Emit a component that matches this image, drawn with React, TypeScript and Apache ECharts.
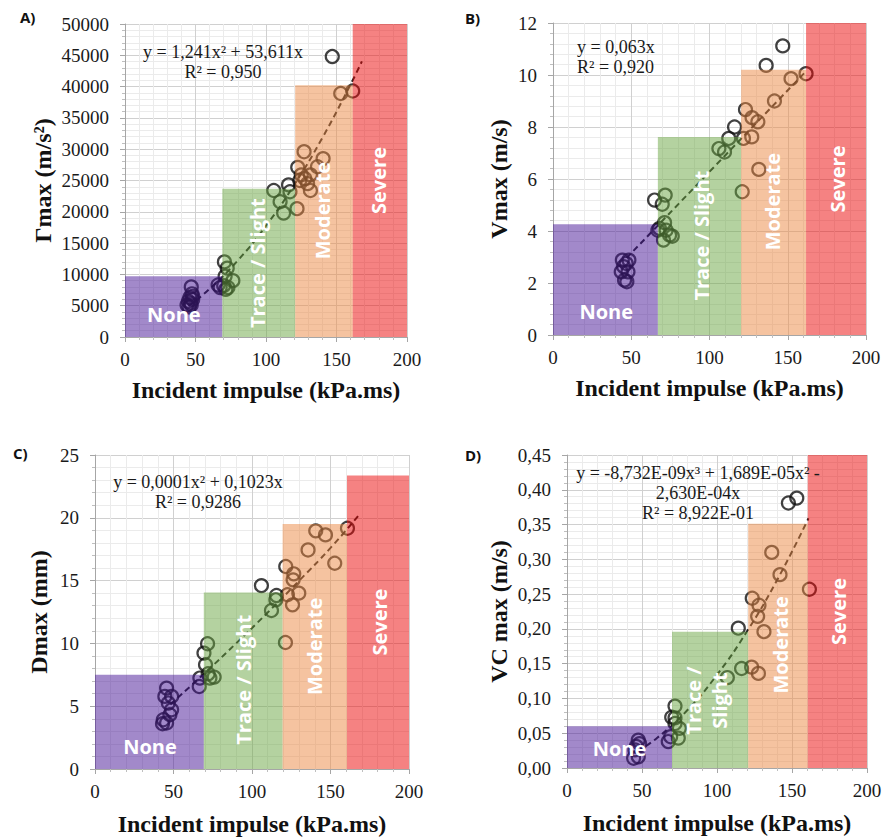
import React, { useEffect, useRef } from "react";
import * as echarts from "echarts";

const SERIF = "'Liberation Serif', 'Times New Roman', serif";
const SANS = "'Open Sans', 'Liberation Sans', sans-serif";

// ---------- Data ----------
const xTitle = "Incident impulse (kPa.ms)";
const zoneNames = ["None", "Trace / Slight", "Moderate", "Severe"];

// Panel A: Γmax
const impulseA = [47, 47.5, 46, 45, 44, 48, 46.5, 45.5, 47, 48, 66, 67.5, 70.5, 72.5, 71, 76.5, 70, 71.5, 73, 105.5, 110, 112.5, 117, 116, 122, 122.5, 124, 125, 127, 127.5, 129.5, 131.5, 131.5, 136.5, 140.5, 153, 161.5, 147];
const gammaA = [8000, 6900, 6300, 5700, 5100, 6000, 5400, 4800, 5100, 6500, 8300, 7900, 12000, 11000, 9700, 9000, 8200, 7600, 7900, 23400, 21600, 19800, 23200, 24300, 20500, 27100, 25000, 25900, 29600, 25300, 24500, 25900, 23400, 27200, 28500, 38900, 39300, 44800];
const trendXA = [45, 60, 80, 100, 120, 140, 160, 168];
const trendYA = [4925, 7685, 12231, 17771, 24303, 31830, 40348, 44033];
const zonesA = [[0, 69, 9700], [69, 120.7, 23700], [120.7, 161.5, 40200], [161.5, 200, 50000]];

// Panel B: Vmax
const impulseB = [44.3, 46.8, 43.6, 47.9, 45.7, 47.2, 45.1, 48.5, 68, 64.9, 71.7, 69.8, 67, 71.3, 72.3, 74.5, 76.2, 70.6, 106, 109.6, 112.3, 116, 120.9, 121.7, 123, 127.2, 130.9, 127, 131.5, 141.5, 152.1, 161.7, 136.2, 146.8];
const vmaxB = [2.88, 2.75, 2.43, 2.43, 2.11, 2.05, 2.63, 2.88, 4.1, 5.19, 5.38, 5.03, 4.03, 4.32, 4.03, 3.84, 3.8, 3.65, 7.17, 7.04, 7.56, 8.0, 5.51, 7.56, 8.67, 8.36, 8.2, 7.62, 6.37, 9.0, 9.86, 10.05, 10.37, 11.12];
const trendXB = [47, 161];
const trendYB = [2.96, 10.1];
const zonesB = [[0, 67, 4.26], [67, 120.2, 7.62], [120.2, 161.7, 10.2], [161.7, 200, 12]];

// Panel C: Dmax
const impulseC = [45.6, 44.5, 48.8, 46.7, 48.8, 47.7, 43.5, 45.6, 43, 66.8, 66.4, 71.7, 69.4, 70.4, 72.1, 75.9, 73.2, 106, 112.4, 115.2, 115.6, 121.3, 121.5, 126.6, 126.2, 129.8, 122.6, 125.8, 135.7, 140.6, 146.8, 152.7, 160.8];
const dmaxC = [6.44, 5.78, 5.78, 5.25, 4.72, 4.32, 3.92, 3.66, 3.6, 7.24, 6.57, 9.97, 9.23, 8.3, 7.58, 7.32, 7.24, 14.6, 12.62, 13.47, 13.81, 10.07, 16.12, 15.54, 15.06, 14.0, 13.87, 13.07, 17.44, 18.96, 18.64, 16.38, 19.17];
const trendXC = [48, 70, 90, 110, 130, 150, 168];
const trendYC = [5.14, 7.65, 10.02, 12.46, 14.99, 17.6, 20.2];
const zonesC = [[0, 69.3, 7.5], [69.3, 119.5, 14.05], [119.5, 160.5, 19.5], [160.5, 200, 23.36]];

// Panel D: VC max
const impulseD = [47.5, 45.3, 47.5, 44.4, 46.2, 48.4, 67.5, 69.1, 72, 69.8, 72, 72, 74.2, 74.9, 106.9, 114.2, 116.4, 123.1, 127.6, 123.5, 128, 127.1, 131.3, 136.5, 142, 147.6, 153.2, 161.6];
const vcD = [0.04, 0.026, 0.016, 0.014, 0.031, 0.035, 0.038, 0.045, 0.089, 0.073, 0.072, 0.064, 0.043, 0.057, 0.13, 0.201, 0.143, 0.145, 0.136, 0.244, 0.234, 0.218, 0.196, 0.31, 0.278, 0.381, 0.388, 0.257];
const trendXD = [47, 60, 80, 100, 120, 140, 161];
const trendYD = [0.024, 0.0431, 0.0826, 0.134, 0.1965, 0.27, 0.359];
const zonesD = [[0, 70, 0.06], [70, 120.8, 0.196], [120.8, 160.5, 0.351], [160.5, 200, 0.45]];

// ---------- Styles ----------
const zoneColors = ["rgba(70,20,150,0.5)", "rgba(105,165,65,0.5)", "rgba(235,135,65,0.5)", "rgba(235,5,5,0.5)"];

type Panel = {
  grid: { left: number; top: number; width: number; height: number };
  yMax: number;
  yInterval: number;
  fmt: (v: number) => string;
  yName: string;
  yNameGap: number;
  xNameGap: number;
  xs: number[];
  ys: number[];
  tx: number[];
  ty: number[];
  zones: number[][];
  labelPos: number[][];
  labelText: string[];
};

const panels: Panel[] = [
  {
    grid: { left: 125, top: 24, width: 282, height: 313 },
    yMax: 50000, yInterval: 5000, fmt: (v) => String(Math.round(v)),
    yName: "Γmax (m/s²)", yNameGap: 70, xNameGap: 41,
    xs: impulseA, ys: gammaA, tx: trendXA, ty: trendYA, zones: zonesA,
    labelPos: [[34.6, 3560], [94, 11800], [140, 20200], [180, 25000]],
    labelText: zoneNames,
  },
  {
    grid: { left: 553, top: 23, width: 313, height: 312 },
    yMax: 12, yInterval: 2, fmt: (v) => String(Math.round(v)),
    yName: "Vmax (m/s)", yNameGap: 42, xNameGap: 41,
    xs: impulseB, ys: vmaxB, tx: trendXB, ty: trendYB, zones: zonesB,
    labelPos: [[34, 0.9], [94.7, 3.82], [140.4, 5.13], [182, 6.0]],
    labelText: zoneNames,
  },
  {
    grid: { left: 95, top: 455, width: 314, height: 314 },
    yMax: 25, yInterval: 5, fmt: (v) => String(Math.round(v)),
    yName: "Dmax (mm)", yNameGap: 44, xNameGap: 43,
    xs: impulseC, ys: dmaxC, tx: trendXC, ty: trendYC, zones: zonesC,
    labelPos: [[35, 1.8], [94.4, 7.1], [140, 9.76], [181.3, 11.7]],
    labelText: zoneNames,
  },
  {
    grid: { left: 567, top: 455, width: 300, height: 313 },
    yMax: 0.45, yInterval: 0.05, fmt: (v) => v.toFixed(2).replace(".", ","),
    yName: "VC max (m/s)", yNameGap: 56, xNameGap: 43,
    xs: impulseD, ys: vcD, tx: trendXD, ty: trendYD, zones: zonesD,
    labelPos: [[35, 0.0287], [93, 0.097], [142, 0.177], [181, 0.225]],
    labelText: ["None", "Trace /\nSlight", "Moderate", "Severe"],
  },
];

const equations = [
  { lines: ["y = 1,241x² + 53,611x", "R² = 0,950"], x: 223, y: 52, align: "center" },
  { lines: ["y = 0,063x", "R² = 0,920"], x: 577, y: 47, align: "left" },
  { lines: ["y = 0,0001x² + 0,1023x", "R² = 0,9286"], x: 198, y: 482, align: "center" },
  { lines: ["y = -8,732E-09x³ + 1,689E-05x² -", "2,630E-04x", "R² = 8,922E-01"], x: 698, y: 473, align: "center" },
];

const panelLetters = [
  { t: "A)", x: 20, y: 17 },
  { t: "B)", x: 465, y: 18 },
  { t: "C)", x: 13, y: 453 },
  { t: "D)", x: 465, y: 455 },
];

const axisGray = "#a6a6a6";

function buildOption() {
  const grid = panels.map((p) => ({ ...p.grid, containLabel: false }));
  const xAxis = panels.map((p, i) => ({
    gridIndex: i,
    type: "value",
    min: 0,
    max: 200,
    interval: 50,
    name: xTitle,
    nameLocation: "middle",
    nameGap: p.xNameGap,
    nameTextStyle: { fontFamily: SERIF, fontWeight: "bold", fontSize: 24, color: "#111" },
    axisLine: { show: true, onZero: false, lineStyle: { color: axisGray } },
    axisTick: { show: true, length: 5, lineStyle: { color: axisGray } },
    minorTick: { show: true, splitNumber: 5, length: 3, lineStyle: { color: "#bfbfbf" } },
    axisLabel: { fontFamily: SERIF, fontSize: 19, color: "#1a1a1a", margin: 13 },
    splitLine: { show: true, lineStyle: { color: "#d0d0d0" } },
    minorSplitLine: { show: true, lineStyle: { color: "#ebebeb" } },
  }));
  const yAxis = panels.map((p, i) => ({
    gridIndex: i,
    type: "value",
    min: 0,
    max: p.yMax,
    interval: p.yInterval,
    name: p.yName,
    nameLocation: "middle",
    nameGap: p.yNameGap,
    nameRotate: 90,
    nameTextStyle: { fontFamily: SERIF, fontWeight: "bold", fontSize: 24, color: "#111" },
    axisLine: { show: true, onZero: false, lineStyle: { color: axisGray } },
    axisTick: { show: true, length: 5, lineStyle: { color: axisGray } },
    minorTick: { show: true, splitNumber: 5, length: 3, lineStyle: { color: "#bfbfbf" } },
    axisLabel: { fontFamily: SERIF, fontSize: 19, color: "#1a1a1a", margin: 16, formatter: p.fmt },
    splitLine: { show: true, lineStyle: { color: "#d0d0d0" } },
    minorSplitLine: { show: true, lineStyle: { color: "#ebebeb" } },
  }));

  const series: any[] = [];
  panels.forEach((p, i) => {
    series.push({
      type: "scatter",
      xAxisIndex: i,
      yAxisIndex: i,
      data: p.xs.map((x, k) => [x, p.ys[k]]),
      symbol: "circle",
      symbolSize: 13,
      itemStyle: { color: "rgba(0,0,0,0)", borderColor: "#111", borderWidth: 2.2 },
      z: 2,
      silent: true,
    });
    series.push({
      type: "line",
      xAxisIndex: i,
      yAxisIndex: i,
      data: p.tx.map((x, k) => [x, p.ty[k]]),
      symbol: "none",
      smooth: true,
      lineStyle: { color: "#222", width: 2, type: [6, 4] },
      z: 2,
      silent: true,
    });
    series.push({
      type: "custom",
      xAxisIndex: i,
      yAxisIndex: i,
      data: p.zones,
      encode: { x: [0, 1], y: 2 },
      z: 3,
      silent: true,
      renderItem: (params: any, api: any) => {
        const p0 = api.coord([api.value(0), api.value(2)]);
        const p1 = api.coord([api.value(1), 0]);
        return {
          type: "rect",
          shape: { x: p0[0], y: p0[1], width: p1[0] - p0[0], height: p1[1] - p0[1] },
          style: { fill: zoneColors[params.dataIndex] },
        };
      },
    });
    series.push({
      type: "custom",
      xAxisIndex: i,
      yAxisIndex: i,
      data: p.labelPos,
      encode: { x: 0, y: 1 },
      z: 4,
      silent: true,
      renderItem: (params: any, api: any) => {
        const pt = api.coord([api.value(0), api.value(1)]);
        const idx = params.dataIndex;
        return {
          type: "text",
          x: pt[0],
          y: pt[1],
          rotation: idx === 0 ? 0 : Math.PI / 2,
          style: {
            text: p.labelText[idx],
            fill: "#ffffff",
            fontFamily: SANS,
            fontWeight: "bold",
            fontSize: 20,
            lineHeight: 26,
            align: "center",
            verticalAlign: "middle",
            textAlign: "center",
            textVerticalAlign: "middle",
          },
        };
      },
    });
  });

  const graphic: any[] = [];
  panelLetters.forEach((l) => {
    graphic.push({
      type: "text",
      x: l.x,
      y: l.y,
      style: {
        text: l.t,
        fill: "#111",
        fontFamily: SANS,
        fontWeight: "bold",
        fontSize: 15,
        align: "left",
        verticalAlign: "middle",
        textAlign: "left",
        textVerticalAlign: "middle",
      },
    });
  });
  equations.forEach((e) => {
    e.lines.forEach((ln, k) => {
      graphic.push({
        type: "text",
        x: e.x,
        y: e.y + k * 20,
        z: 10,
        style: {
          text: ln,
          fill: "#1a1a1a",
          fontFamily: SERIF,
          fontSize: 18,
          align: e.align,
          verticalAlign: "middle",
          textAlign: e.align,
          textVerticalAlign: "middle",
        },
      });
    });
  });

  return {
    animation: false,
    backgroundColor: "#ffffff",
    grid,
    xAxis,
    yAxis,
    series,
    graphic,
  };
}

export default function App() {
  const ref = useRef<HTMLDivElement>(null);
  useEffect(() => {
    if (!ref.current) return;
    const chart = echarts.init(ref.current, undefined, { renderer: "svg" });
    chart.setOption(buildOption() as any);
    return () => chart.dispose();
  }, []);
  return (
    <div
      ref={ref}
      style={{ position: "absolute", left: 0, top: 0, width: 885, height: 840, background: "#fff" }}
    />
  );
}
